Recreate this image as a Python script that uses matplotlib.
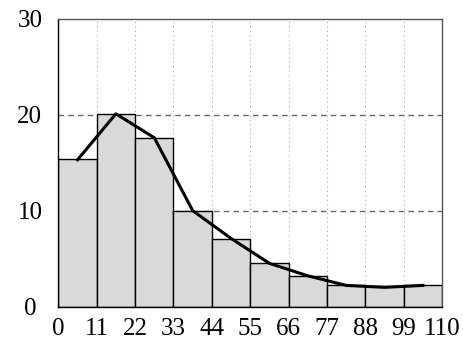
import matplotlib
matplotlib.use("Agg")
import matplotlib.pyplot as plt
import numpy as np

bin_edges = [0, 11, 22, 33, 44, 55, 66, 77, 88, 99, 110]
bar_heights = [15.35, 20.1, 17.55, 10.0, 7.0, 4.5, 3.15, 2.2, 2.15, 2.2]
line_x = [5.5, 16.5, 27.5, 38.5, 49.5, 60.5, 71.5, 82.5, 93.5, 104.5]
line_y = [15.3, 20.1, 17.6, 10.0, 7.1, 4.5, 3.2, 2.2, 2.0, 2.2]
y_ticks = [0, 10, 20, 30]

plt.rcParams['font.family'] = ['Liberation Serif', 'DejaVu Serif']

fig = plt.figure(figsize=(4.63, 3.40), dpi=100)
ax = fig.add_axes([0.126, 0.0985, 0.829, 0.846])

widths = np.diff(bin_edges)
ax.bar(bin_edges[:-1], bar_heights, width=widths, align='edge',
       color='#d9d9d9', edgecolor='black', linewidth=1.0, zorder=2)
ax.plot(line_x, line_y, color='black', linewidth=2.2, zorder=3,
        solid_joinstyle='round')

ax.set_xlim(0, 110)
ax.set_ylim(0, 30)
ax.set_xticks(bin_edges)
ax.set_yticks(y_ticks)
ax.tick_params(length=0, labelsize=18)
ax.tick_params(axis='x', pad=8)
ax.tick_params(axis='y', pad=20.5)
for lab in ax.get_yticklabels():
    lab.set_horizontalalignment('center')

for x in bin_edges[1:-1]:
    ax.axvline(x, color='#aaaaaa', linestyle=(0, (1, 3)), linewidth=0.8, zorder=1)
for y in [10, 20]:
    ax.axhline(y, color='#666666', linestyle=(0, (4, 3)), linewidth=1.0, zorder=1)

for s in ['left', 'bottom']:
    ax.spines[s].set_color('black')
    ax.spines[s].set_linewidth(1.0)
for s in ['top', 'right']:
    ax.spines[s].set_color('#555555')
    ax.spines[s].set_linewidth(1.0)

fig.savefig('out.png', dpi=100)
